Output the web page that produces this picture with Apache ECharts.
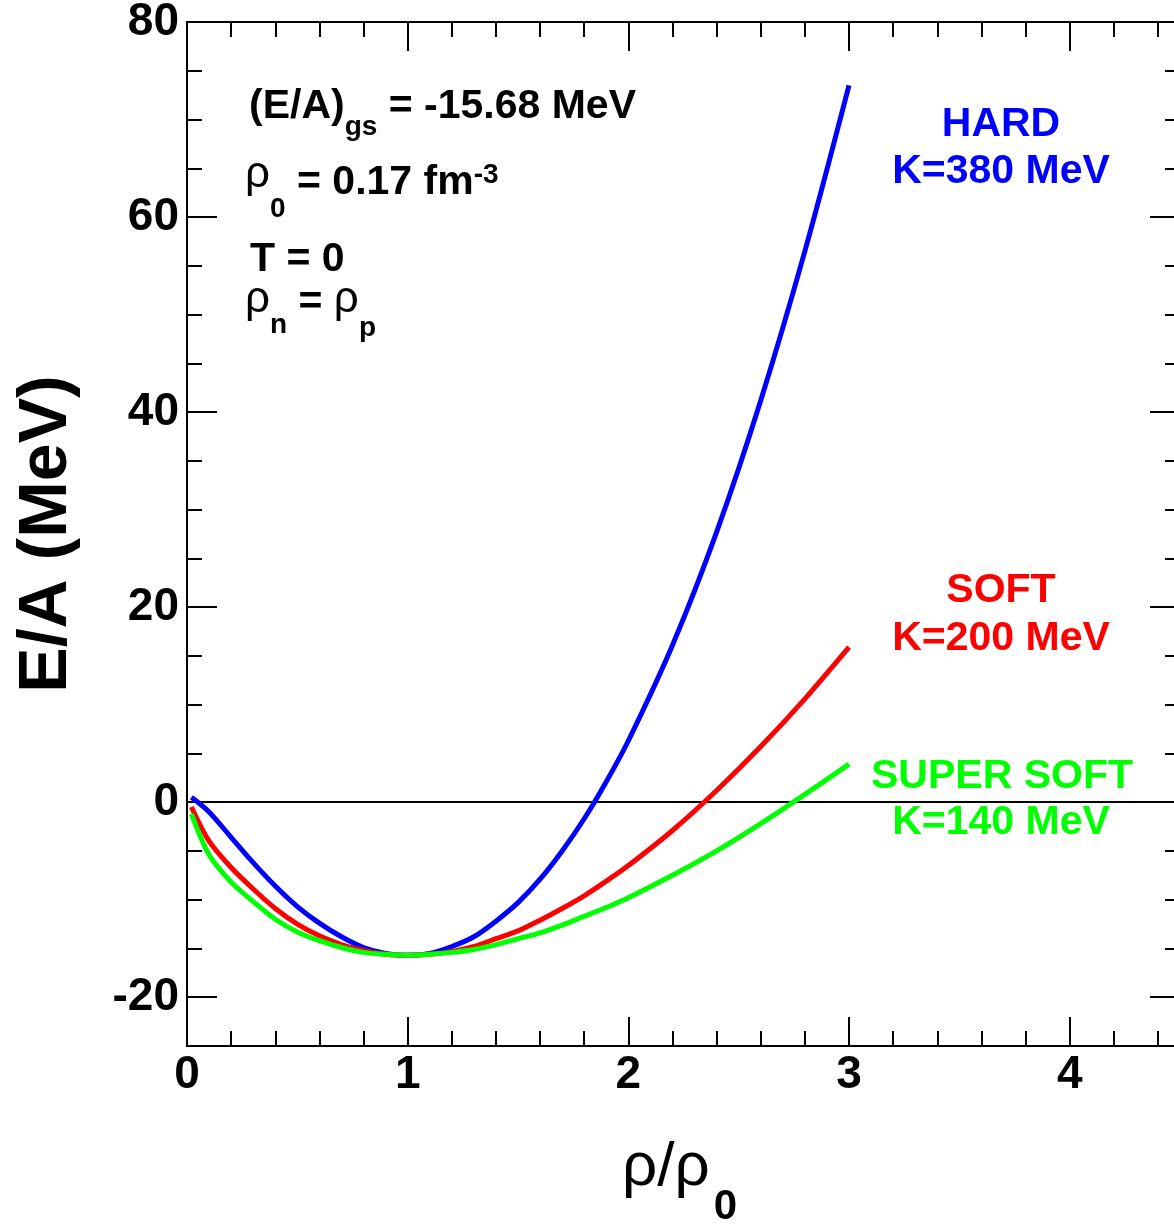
<!DOCTYPE html>
<html>
<head>
<meta charset="utf-8">
<script src="https://cdn.jsdelivr.net/npm/echarts@6/dist/echarts.min.js"></script>
<style>
  html, body { margin: 0; padding: 0; background: #fff; }
  #chart { width: 1174px; height: 1226px; }
</style>
</head>
<body>
<div id="chart"></div>
<script>
// rho / rho0 sample points
const rho = [0.02, 0.1, 0.2, 0.3, 0.4, 0.5, 0.6, 0.7, 0.8, 0.9, 1.0, 1.1, 1.2, 1.3, 1.4,
  1.5, 1.6, 1.7, 1.8, 1.9, 2.0, 2.2, 2.4, 2.6, 2.8, 3.0];
// E/A (MeV) for each equation of state
const hard = [0.5, -1.0, -3.6, -6.2, -8.6, -10.7, -12.4, -13.8, -14.9, -15.5, -15.7, -15.5,
  -14.8, -13.8, -12.2, -10.3, -7.9, -5.0, -1.7, 2.1, 6.3, 16.1, 27.7, 41.2, 56.5, 73.5];
const soft = [-0.5, -4.0, -6.7, -8.9, -10.9, -12.5, -13.7, -14.6, -15.2, -15.6, -15.7, -15.6,
  -15.3, -14.8, -14.0, -13.2, -12.1, -10.9, -9.6, -8.1, -6.5, -2.9, 1.2, 5.7, 10.6, 15.9];
const superSoft = [-1.2, -5.4, -8.2, -10.2, -12.0, -13.3, -14.2, -14.9, -15.4, -15.6, -15.7, -15.6,
  -15.4, -15.1, -14.6, -14.0, -13.4, -12.6, -11.7, -10.8, -9.8, -7.5, -5.0, -2.2, 0.8, 3.9];

const xRange = [0, 4.5];
const yRange = [-25, 80];

const FONT = '"Liberation Sans", Arial, Helvetica, sans-serif';
const ctx = document.createElement("canvas").getContext("2d");

// lay out text pieces left to right (for sub/superscripts)
function textRun(x, y, parts, color) {
  const out = [];
  parts.forEach((p) => {
    const font = (p.w || "bold") + " " + p.s + "px " + FONT;
    ctx.font = font;
    out.push({
      type: "text",
      x: x,
      y: y + (p.dy || 0),
      z: 100,
      style: { text: p.t, font: font, fill: color, align: "left", verticalAlign: "middle" },
    });
    x += ctx.measureText(p.t).width + (p.gap || 0);
  });
  return out;
}

function centered(x, y, text, color) {
  return {
    type: "text",
    x: x,
    y: y,
    z: 100,
    style: { text: text, font: "bold 41px " + FONT, fill: color, align: "center", verticalAlign: "middle" },
  };
}

const graphics = [].concat(
  textRun(249, 107, [
    { t: "(E/A)", s: 41 },
    { t: "gs", s: 28, dy: 20 },
    { t: " = -15.68 MeV", s: 41 },
  ], "#000"),
  textRun(245, 183, [
    { t: "ρ", s: 44, w: "normal", dy: -8 },
    { t: "0", s: 28, dy: 26 },
    { t: " = 0.17 fm", s: 41 },
    { t: "-3", s: 28, dy: -8 },
  ], "#000"),
  textRun(250, 260, [{ t: "T = 0", s: 41 }], "#000"),
  textRun(245, 303, [
    { t: "ρ", s: 44, w: "normal", dy: -3 },
    { t: "n", s: 28, dy: 22 },
    { t: " = ", s: 41 },
    { t: "ρ", s: 44, w: "normal", dy: -3 },
    { t: "p", s: 28, dy: 25 },
  ], "#000"),
  textRun(622, 1168, [
    { t: "ρ/ρ", s: 62, w: "normal", gap: 4 },
    { t: "0", s: 42, dy: 39 },
  ], "#000"),
  [
    centered(1001, 125, "HARD", "#0000ff"),
    centered(1001, 172, "K=380 MeV", "#0000ff"),
    centered(1001, 591, "SOFT", "#ff0000"),
    centered(1001, 639, "K=200 MeV", "#ff0000"),
    centered(1002, 777, "SUPER SOFT", "#00ff00"),
    centered(1001, 823, "K=140 MeV", "#00ff00"),
  ]
);

const lineAxis = { show: true, onZero: false, lineStyle: { color: "#000", width: 2 } };

function xAxisDef(pos, labels) {
  return {
    type: "value",
    position: pos,
    min: xRange[0],
    max: xRange[1],
    interval: 1,
    axisLine: lineAxis,
    axisTick: { show: true, inside: true, length: 29, lineStyle: { color: "#000", width: 2 } },
    minorTick: { show: true, splitNumber: 5, length: 15, lineStyle: { color: "#000", width: 2 } },
    splitLine: { show: false },
    minorSplitLine: { show: false },
    axisLabel: {
      show: labels,
      showMaxLabel: false,
      color: "#000",
      fontFamily: FONT,
      fontWeight: "bold",
      fontSize: 46,
      margin: 6,
    },
  };
}

function yAxisDef(pos, labels) {
  return {
    type: "value",
    position: pos,
    min: yRange[0],
    max: yRange[1],
    splitNumber: 5,
    axisLine: lineAxis,
    axisTick: { show: true, inside: true, length: 30, lineStyle: { color: "#000", width: 2 } },
    minorTick: { show: true, splitNumber: 4, length: 15, lineStyle: { color: "#000", width: 2 } },
    splitLine: { show: false },
    minorSplitLine: { show: false },
    axisLabel: {
      show: labels,
      showMinLabel: false,
      color: "#000",
      fontFamily: FONT,
      fontWeight: "bold",
      fontSize: 46,
      margin: 8,
      padding: [8, 0, 0, 0],
    },
    name: labels ? "E/A (MeV)" : "",
    nameLocation: "middle",
    nameGap: 106,
    nameMoveOverlap: false,
    nameTextStyle: { color: "#000", fontFamily: FONT, fontWeight: "bold", fontSize: 68 },
  };
}

function curve(name, values, color) {
  return {
    name: name,
    type: "line",
    data: rho.map((r, i) => [r, values[i]]),
    smooth: 0.3,
    showSymbol: false,
    lineStyle: { color: color, width: 5 },
    z: 5,
  };
}

const chart = echarts.init(document.getElementById("chart"));
chart.setOption({
  animation: false,
  backgroundColor: "#fff",
  grid: { left: 187, top: 22, width: 993, height: 1024, outerBoundsMode: "none" },
  xAxis: [xAxisDef("bottom", true), xAxisDef("top", false)],
  yAxis: [yAxisDef("left", true), yAxisDef("right", false)],
  series: [
    {
      type: "line",
      data: [],
      z: 1,
      markLine: {
        silent: true,
        symbol: "none",
        label: { show: false },
        lineStyle: { color: "#000", width: 2, type: "solid" },
        data: [{ yAxis: 0 }],
      },
    },
    curve("HARD", hard, "#0000ff"),
    curve("SOFT", soft, "#ff0000"),
    curve("SUPER SOFT", superSoft, "#00ff00"),
  ],
  graphic: graphics,
});
</script>
</body>
</html>
